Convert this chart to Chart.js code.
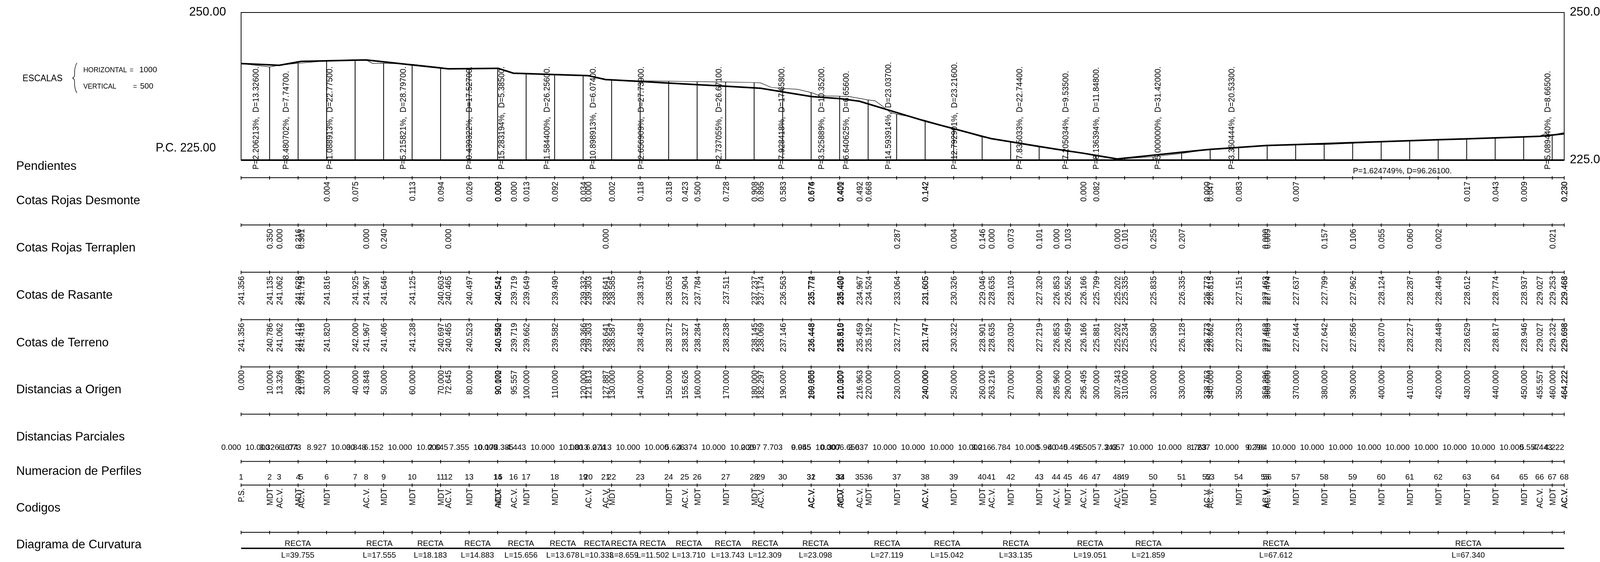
<!DOCTYPE html>
<html>
<head>
<meta charset="utf-8">
<title>Perfil longitudinal</title>
<script src="https://cdn.jsdelivr.net/npm/chart.js@4"></script>
<style>
  html, body { margin:0; padding:0; background:#fff; overflow:hidden; }
  canvas { display:block; }
</style>
</head>
<body>
<canvas id="perfil"></canvas>
<script>
/* values */
const estaciones = [0,10,13.326,20,21.073,30,40,43.848,50,60,70,72.645,80,90,90.172,95.557,100,110,120,121.813,127.887,130,140,150,155.626,160,170,180,182.297,190,199.955,200,210,210.307,216.963,220,230,240,250,260,263.216,270,280,285.96,290,295.495,300,307.343,310,320,330,338.763,340,350,359.296,360,370,380,390,400,410,420,430,440,450,455.557,460,464.222];
const rasante = [241.356,241.135,241.062,241.628,241.719,241.816,241.925,241.967,241.646,241.125,240.603,240.465,240.497,240.541,240.542,239.719,239.649,239.49,239.332,239.303,238.641,238.585,238.319,238.053,237.904,237.784,237.511,237.237,237.174,236.563,235.774,235.772,235.42,235.409,234.967,234.524,233.064,231.605,230.326,229.046,228.635,228.103,227.32,226.853,226.562,226.166,225.799,225.202,225.335,225.835,226.335,226.773,226.815,227.151,227.463,227.474,227.637,227.799,227.962,228.124,228.287,228.449,228.612,228.774,228.937,229.027,229.253,229.468];
const terreno = [241.356,240.786,241.062,241.412,241.418,241.82,242,241.967,241.406,241.238,240.697,240.465,240.523,240.55,240.542,239.719,239.662,239.582,239.366,239.303,238.641,238.587,238.438,238.372,238.327,238.284,238.238,238.145,238.069,237.146,236.448,236.448,235.819,235.81,235.459,235.192,232.777,231.747,230.322,228.901,228.635,228.03,227.219,226.853,226.459,226.166,225.881,225.202,225.234,225.58,226.128,226.773,226.862,227.233,227.463,227.465,227.644,227.642,227.856,228.07,228.227,228.448,228.629,228.817,228.946,229.027,229.232,229.698];
const desmonte = [null,null,null,null,null,0.004,0.075,null,null,0.113,0.094,null,0.026,0.009,0,0,0.013,0.092,0.034,0,null,0.002,0.118,0.318,0.423,0.5,0.728,0.908,0.895,0.583,0.674,0.676,0.4,0.401,0.492,0.668,null,0.142,null,null,null,null,null,null,null,0,0.082,null,null,null,null,0,0.047,0.083,null,null,0.007,null,null,null,null,null,0.017,0.043,0.009,null,null,0.23];
const terraplen = [null,0.35,0,0.216,0.301,null,null,0,0.24,null,null,0,null,null,null,null,null,null,null,null,0,null,null,null,null,null,null,null,null,null,null,null,null,null,null,null,0.287,null,0.004,0.146,0,0.073,0.101,0,0.103,null,null,0,0.101,0.255,0.207,null,null,null,0,0.009,null,0.157,0.106,0.055,0.06,0.002,null,null,null,null,0.021,null];
const parciales = [0,10,3.326,6.674,1.073,8.927,10,3.848,6.152,10,10,2.645,7.355,10,0.172,5.385,4.443,10,10,1.813,6.074,2.113,10,10,5.626,4.374,10,10,2.297,7.703,9.955,0.045,10,0.307,6.656,3.037,10,10,10,10,3.216,6.784,10,5.96,4.04,5.495,4.505,7.343,2.657,10,10,8.763,1.237,10,9.296,0.704,10,10,10,10,10,10,10,10,10,5.557,4.443,4.222];
const codigos = ['P.S.','MDT','AC.V.','MDT','AC.V.','MDT','','AC.V.','MDT','MDT','MDT','AC.V.','MDT','AC.V.','MDT','AC.V.','MDT','MDT','','AC.V.','AC.V.','MDT','','MDT','AC.V.','MDT','MDT','MDT','AC.V.','','AC.V.','AC.V.','MDT','AC.V.','AC.V.','MDT','MDT','AC.V.','MDT','MDT','AC.V.','MDT','MDT','AC.V.','MDT','AC.V.','MDT','AC.V.','MDT','MDT','','AC.V.','AC.V.','MDT','AC.V.','AC.V.','MDT','MDT','MDT','MDT','MDT','MDT','MDT','MDT','MDT','AC.V.','MDT','AC.V.'];

// terrain vertices between profiles
const quiebresEstacion = [46.1,186.1,195.2,202.7,205.5,212.9,222.5,225,227.7,233.8,457.4];
const quiebresCota = [241.38,237.3,236.99,235.96,235.87,235.8,235.03,234.15,233.1,232.43,229.45];

const pendientes = ['2.206213','8.480702','1.088913','5.215821','0.439322','15.283194','1.584400','10.898913','2.656909','2.737055','7.928418','3.525889','6.640625','14.593914','12.792901','7.835033','7.205034','8.136394','5.000000','3.360444','1.624749','5.089440'];
const longitudes = ['13.32600','7.74700','22.77500','28.79700','17.52700','5.38500','26.25600','6.07400','27.73900','26.67100','17.65800','10.35200','6.65600','23.03700','23.21600','22.74400','9.53500','11.84800','31.42000','20.53300','96.26100','8.66500'];
const tramos = [39.755,17.555,18.183,14.883,15.656,13.678,10.333,8.659,11.502,13.71,13.743,12.309,23.098,27.119,15.042,33.135,19.051,21.859,67.612,67.34];
const reforzadas = [240,464.222];

const FONT = '"Liberation Sans", Arial, sans-serif';

// the drawing is laid out on a 4247 wide sheet, squeezed to whatever the window gives
const HOJA = 4247;
const ANCHO = window.innerWidth || HOJA;
const ALTO = 1439;
const sx = ANCHO / HOJA;

// y of each guitar line and of its labels
const lineasGuitarra = [455,576,697,818.5,939.5,1060.5,1181.5,1242,1363];
const rotulos = [
  ['Pendientes',435], ['Cotas Rojas Desmonte',523], ['Cotas Rojas Terraplen',644],
  ['Cotas de Rasante',765], ['Cotas de Terreno',887], ['Distancias a Origen',1007],
  ['Distancias Parciales',1128], ['Numeracion de Perfiles',1216], ['Codigos',1310],
  ['Diagrama de Curvatura',1404],
];

function vertical(ctx, txt, x, y, align, bold) {
  ctx.save();
  ctx.translate(x + 8.4, y);
  ctx.rotate(-Math.PI / 2);
  ctx.scale(0.87, 1);
  ctx.font = '23.5px ' + FONT;
  ctx.textAlign = align;
  ctx.textBaseline = 'alphabetic';
  ctx.fillText(txt, 0, 0);
  if (bold) { ctx.lineWidth = 0.5; ctx.strokeText(txt, 0, 0); }
  ctx.restore();
}

function plano(ctx, txt, x, y, size, align) {
  ctx.font = size + 'px ' + FONT;
  ctx.textAlign = align || 'left';
  ctx.textBaseline = 'alphabetic';
  ctx.fillText(txt, x, y);
}

const guitarra = {
  id: 'guitarra',
  afterDatasetsDraw(chart) {
    const { ctx, chartArea, scales: { x, y } } = chart;
    const a = { left: chartArea.left / sx, right: chartArea.right / sx, top: chartArea.top, bottom: chartArea.bottom };
    const px = v => x.getPixelForValue(v) / sx;
    const marcas = estaciones.filter((e, i) => e % 10 === 0 || i === estaciones.length - 1);
    ctx.save();
    ctx.scale(sx, 1);
    ctx.fillStyle = '#000';
    ctx.strokeStyle = '#000';
    ctx.lineCap = 'butt';

    // plot frame
    ctx.lineWidth = 2;
    ctx.strokeRect(a.left, y.getPixelForValue(250), a.right - a.left, a.bottom - a.top);
    ctx.lineWidth = 4;
    ctx.beginPath(); ctx.moveTo(a.left, a.bottom); ctx.lineTo(a.right, a.bottom); ctx.stroke();

    // guitar lines and ticks
    lineasGuitarra.forEach(ly => {
      ctx.lineWidth = 2;
      ctx.beginPath(); ctx.moveTo(a.left, ly); ctx.lineTo(a.right, ly); ctx.stroke();
      marcas.forEach(m => {
        ctx.beginPath(); ctx.moveTo(px(m), ly - 4); ctx.lineTo(px(m), ly + 5); ctx.stroke();
      });
    });

    // elevation labels
    plano(ctx, '250.00', 600, y.getPixelForValue(250) + 8, 32, 'right');
    plano(ctx, 'P.C. 225.00', 573, y.getPixelForValue(225) - 22, 31, 'right');
    plano(ctx, '250.00', a.right + 15, y.getPixelForValue(250) + 8, 32);
    plano(ctx, '225.00', a.right + 15, y.getPixelForValue(225) + 8, 32);

    // scale note
    plano(ctx, 'ESCALAS', 60, 208, 23);
    plano(ctx, 'HORIZONTAL', 221, 185, 18.2);
    plano(ctx, '=', 344, 185, 18);
    plano(ctx, '1000', 370, 185, 21);
    plano(ctx, 'VERTICAL', 221, 227, 18);
    plano(ctx, '=', 353, 227, 18);
    plano(ctx, '500', 372, 227, 21);
    ctx.lineWidth = 1.5;
    ctx.beginPath();
    ctx.moveTo(204, 161);
    ctx.quadraticCurveTo(198, 172, 198, 185);
    ctx.lineTo(198, 190);
    ctx.quadraticCurveTo(198, 198, 193, 200);
    ctx.quadraticCurveTo(198, 202, 198, 210);
    ctx.lineTo(198, 215);
    ctx.quadraticCurveTo(198, 228, 204, 238);
    ctx.stroke();

    rotulos.forEach(r => plano(ctx, r[0], 43, r[1], 32));

    // grade labels over each stretch of the rasante
    let acum = 0;
    pendientes.forEach((p, i) => {
      const d = parseFloat(longitudes[i]);
      const medio = acum + d / 2;
      acum += d;
      if (px(acum) - px(acum - d) > 251) {
        plano(ctx, 'P=' + p + '%, D=' + longitudes[i] + '.', px(medio), 444, 20.8, 'center');
      } else {
        vertical(ctx, 'P=' + p + '%,  D=' + longitudes[i] + '.', px(medio) - 12, 434, 'left');
      }
    });

    // one column per profile
    estaciones.forEach((e, i) => {
      const xp = px(e);
      const fuerte = reforzadas.includes(e);
      if (desmonte[i] !== null) vertical(ctx, desmonte[i].toFixed(3), xp, 465, 'right', fuerte);
      if (terraplen[i] !== null) vertical(ctx, terraplen[i].toFixed(3), xp, 586, 'right', fuerte);
      vertical(ctx, rasante[i].toFixed(3), xp, 707, 'right', fuerte);
      vertical(ctx, terreno[i].toFixed(3), xp, 827, 'right', fuerte);
      vertical(ctx, e.toFixed(3), xp, 948, 'right', fuerte);
      plano(ctx, parciales[i].toFixed(3), xp, 1152, 21, 'right');
      plano(ctx, String(i + 1), xp, 1228, 21, 'center');
      if (codigos[i]) vertical(ctx, codigos[i], xp, 1250, 'right', fuerte);
    });

    // curvature diagram
    ctx.lineWidth = 3.5;
    ctx.beginPath(); ctx.moveTo(a.left, 1404); ctx.lineTo(a.right, 1404); ctx.stroke();
    let inicio = 0;
    tramos.forEach(l => {
      const c = px(inicio + l / 2);
      plano(ctx, 'RECTA', c, 1398, 21, 'center');
      plano(ctx, 'L=' + l.toFixed(3), c, 1428, 21, 'center');
      inicio += l;
    });
    ctx.restore();
  }
};

// terrain line = profile values plus the vertices between them
const trazaTerreno = estaciones.map((e, i) => ({ x: e, y: terreno[i] }))
  .concat(quiebresEstacion.map((e, i) => ({ x: e, y: quiebresCota[i] })))
  .sort((p, q) => p.x - q.x);

// one upright per 10 m station, from datum up to the terrain
const montantes = [];
estaciones.forEach((e, i) => {
  if (e % 10 === 0 && e > 0) {
    montantes.push({ x: e, y: 225 }, { x: e, y: terreno[i] }, { x: e, y: null });
  }
});

const lienzo = document.getElementById('perfil');
lienzo.width = ANCHO;
lienzo.height = ALTO;

new Chart(lienzo, {
  type: 'line',
  data: {
    datasets: [
      { label: 'Montantes', data: montantes, borderColor: '#000', borderWidth: 2, pointRadius: 0, spanGaps: false },
      { label: 'Terreno', data: trazaTerreno, borderColor: '#000', borderWidth: 1.2, pointRadius: 0, tension: 0 },
      { label: 'Rasante', data: estaciones.map((e, i) => ({ x: e, y: rasante[i] })), borderColor: '#000', borderWidth: 4, pointRadius: 0, tension: 0 },
    ]
  },
  options: {
    responsive: false,
    animation: false,
    devicePixelRatio: 1,
    layout: { padding: { left: 640 * sx, right: 95 * sx, top: 32, bottom: 1029 } },
    plugins: { legend: { display: false }, tooltip: { enabled: false }, title: { display: false } },
    scales: {
      x: { type: 'linear', min: 0, max: 464.222, display: false },
      y: { type: 'linear', min: 225, max: 250, display: false },
    },
  },
  plugins: [guitarra],
});
</script>
</body>
</html>
